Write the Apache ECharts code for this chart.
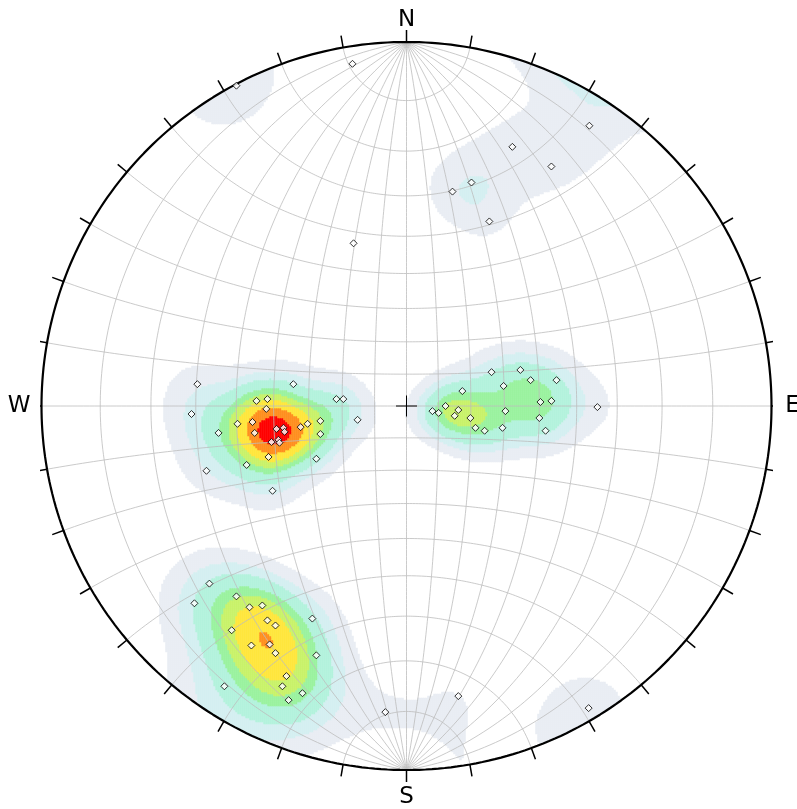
<!DOCTYPE html>
<html><head><meta charset="utf-8">
<script src="https://cdn.jsdelivr.net/npm/echarts@6/dist/echarts.min.js"></script>
<style>html,body{margin:0;padding:0;background:#fff}#c{width:797px;height:809px}</style>
</head><body><div id="c"></div>
<script>
const westPoles = [
 [-0.573,0.060],[-0.310,0.060],[-0.192,0.019],[-0.173,0.019],[-0.411,0.014],[-0.381,0.019],
 [-0.589,-0.022],[-0.384,-0.008],[-0.463,-0.049],[-0.422,-0.044],[-0.134,-0.038],[-0.236,-0.041],
 [-0.271,-0.049],[-0.290,-0.058],[-0.337,-0.060],[-0.356,-0.063],[-0.334,-0.071],[-0.416,-0.074],
 [-0.515,-0.074],[-0.236,-0.077],[-0.370,-0.099],[-0.351,-0.093],[-0.348,-0.101],[-0.378,-0.140],
 [-0.247,-0.145],[-0.438,-0.162],[-0.548,-0.178],[-0.367,-0.233]
];
const southwestPoles = [
 [-0.540,-0.488],[-0.581,-0.542],[-0.466,-0.523],[-0.395,-0.548],[-0.430,-0.553],[-0.258,-0.584],
 [-0.381,-0.589],[-0.359,-0.603],[-0.479,-0.616],[-0.425,-0.658],[-0.375,-0.655],[-0.359,-0.679],
 [-0.247,-0.685],[-0.329,-0.742],[-0.340,-0.770],[-0.285,-0.789],[-0.323,-0.808],[-0.499,-0.770]
];
const eastPoles = [
 [0.233,0.093],[0.312,0.099],[0.340,0.071],[0.411,0.071],[0.266,0.055],[0.153,0.041],
 [0.367,0.011],[0.397,0.014],[0.523,-0.003],[0.107,0.000],[0.071,-0.014],[0.088,-0.019],
 [0.142,-0.011],[0.132,-0.027],[0.175,-0.033],[0.271,-0.014],[0.364,-0.033],[0.189,-0.060],
 [0.214,-0.068],[0.263,-0.060],[0.381,-0.068]
];
const northeastPoles = [
 [0.501,0.770],[0.290,0.712],[0.397,0.658],[0.178,0.614],[0.126,0.589],[0.227,0.507]
];
const scatteredPoles = [
 [-0.148,0.940],[-0.466,0.880],[-0.145,0.447],[-0.058,-0.841],[0.142,-0.797],[0.499,-0.830]
];
const directionLabels = ['N','E','S','W'];
const gridStepDeg = 10;
const tickStepDeg = 10;
const kambSigma = 1.5;
const contourLevels = [0.97, 2.45, 3.9, 6.0, 7.35, 8.95, 10.95, 13.0];
const contourColors = ['#e9edf3','#d4eff1','#b3f2dc','#9af29f','#c8f26a','#ffe63c','#ff8f1f','#ff0000'];

const poles = [].concat(westPoles, southwestPoles, eastPoles, northeastPoles, scatteredPoles);

// layout
const GL = 41.5, GT = 42, GW = 730, GH = 728;
const NX = 365, NY = 364;
const D2R = Math.PI / 180;

function toVec(p) {
  const u = p[0], v = p[1], r2 = u*u + v*v, k = 1/(1+r2);
  return [2*u*k, 2*v*k, (1-r2)*k];
}
function proj(e, n, d) { return [e/(1+d), n/(1+d)]; }

// exponential Kamb density (Vollmer), in multiples of sigma
const pv = poles.map(toVec);
const nP = pv.length;
const f = 2 * (1 + nP / (kambSigma*kambSigma));
const units = Math.sqrt(nP * (f/2 - 1) / (f*f));
function density(u, v) {
  const c = toVec([u, v]);
  let s = 0;
  for (let i = 0; i < nP; i++) {
    const q = pv[i];
    const cd = Math.abs(c[0]*q[0] + c[1]*q[1] + c[2]*q[2]);
    s += Math.exp(f * (cd - 1));
  }
  return Math.max(0, (s - 0.5) / units);
}

const heat = [];
for (let j = 0; j < NY; j++) {
  const v = (j + 0.5) / NY * 2 - 1;
  for (let i = 0; i < NX; i++) {
    const u = (i + 0.5) / NX * 2 - 1;
    if (u*u + v*v >= 1) continue;
    const d = density(u, v);
    let b = 0;
    while (b < contourLevels.length && d >= contourLevels[b]) b++;
    if (b > 0) heat.push([i, j, b]);
  }
}

// grid arcs
const series = [];
const gridStyle = { color: '#bdbdbd', width: 0.8 };
function addLine(pts, style, z) {
  series.push({ type: 'line', xAxisIndex: 0, yAxisIndex: 0, data: pts, showSymbol: false, symbol: 'none',
    lineStyle: style, silent: true, clip: false, z: z, animation: false });
}
for (let dip = gridStepDeg; dip <= 90; dip += gridStepDeg) {
  const signs = dip === 90 ? [1] : [1, -1];
  for (const s of signs) {
    const pts = [];
    for (let a = 0; a <= 180; a += 1) {
      const e = Math.sin(a*D2R) * Math.cos(dip*D2R) * s, n = Math.cos(a*D2R), d = Math.sin(a*D2R) * Math.sin(dip*D2R);
      pts.push(proj(e, n, d));
    }
    addLine(pts, gridStyle, 2);
  }
}
for (let al = gridStepDeg; al <= 90; al += gridStepDeg) {
  const signs = al === 90 ? [1] : [1, -1];
  for (const s of signs) {
    const pts = [];
    for (let ph = 0; ph <= 180; ph += 1) {
      const e = Math.sin(al*D2R) * Math.cos(ph*D2R), n = s * Math.cos(al*D2R), d = Math.sin(al*D2R) * Math.sin(ph*D2R);
      pts.push(proj(e, n, d));
    }
    addLine(pts, gridStyle, 2);
  }
}
// primitive circle
const prim = [];
for (let a = 0; a <= 360; a += 1) prim.push([Math.sin(a*D2R), Math.cos(a*D2R)]);
addLine(prim, { color: '#000', width: 2.2 }, 5);
// ticks
for (let az = 0; az < 360; az += tickStepDeg) {
  const sx = Math.sin(az*D2R), cy = Math.cos(az*D2R);
  addLine([[sx, cy], [sx*(1+12/365), cy*(1+12/364)]], { color: '#000', width: 1.5 }, 5);
}
// centre cross
addLine([[-10.5/365, 0], [10.5/365, 0]], { color: '#000', width: 1 }, 5);
addLine([[0, -10.5/364], [0, 10.5/364]], { color: '#000', width: 1 }, 5);

series.unshift({ type: 'heatmap', xAxisIndex: 1, yAxisIndex: 1, data: heat, progressive: 0,
  silent: true, z: 1, animation: false, itemStyle: { borderWidth: 0 } });
series.push({ type: 'scatter', xAxisIndex: 0, yAxisIndex: 0, data: poles, symbol: 'diamond', symbolSize: 7,
  itemStyle: { color: '#fff', borderColor: '#000', borderWidth: 1 }, z: 10, silent: true, animation: false });

const cats = n => Array.from({ length: n }, (_, i) => i);
const chart = echarts.init(document.getElementById('c'), null, { renderer: 'canvas' });
const cxp = GL + GW/2, cyp = GT + GH/2;
const lblFont = '23px "DejaVu Sans"';
const lblPos = [[cxp, GT - 22], [GL + GW + 21, cyp], [cxp, GT + GH + 27], [19, cyp]];
chart.setOption({
  animation: false,
  grid: [
    { left: GL, top: GT, width: GW, height: GH },
    { left: GL, top: GT, width: GW, height: GH }
  ],
  xAxis: [
    { type: 'value', min: -1, max: 1, gridIndex: 0, show: false },
    { type: 'category', data: cats(NX), gridIndex: 1, show: false }
  ],
  yAxis: [
    { type: 'value', min: -1, max: 1, gridIndex: 0, show: false },
    { type: 'category', data: cats(NY), gridIndex: 1, show: false }
  ],
  visualMap: {
    type: 'piecewise', show: false, seriesIndex: 0, dimension: 2,
    pieces: contourColors.map((c, k) => ({ value: k + 1, color: c }))
  },
  graphic: directionLabels.map((t, k) => ({
    type: 'text', x: lblPos[k][0], y: lblPos[k][1], z: 20,
    style: { text: t, font: lblFont, fill: '#000', align: 'center', verticalAlign: 'middle',
      textAlign: 'center', textVerticalAlign: 'middle' }
  })),
  series: series
});
</script></body></html>
